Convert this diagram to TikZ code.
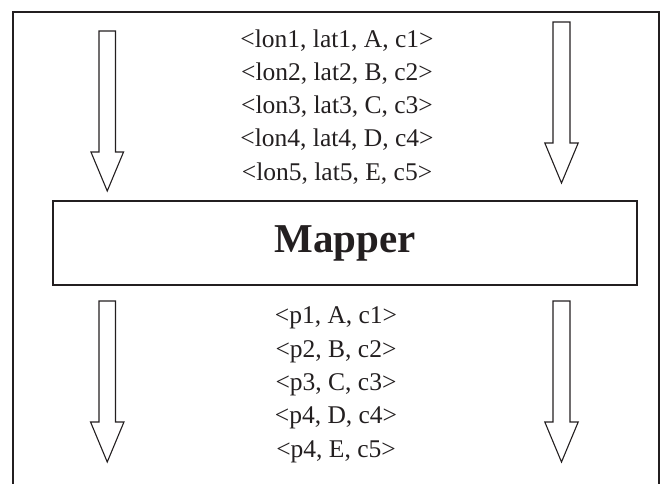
\documentclass[tikz,border=0pt]{standalone}
\usepackage{fontspec}
\setmainfont{Liberation Serif}
\definecolor{ink}{HTML}{231F20}
\begin{document}
\begin{tikzpicture}[x=1pt,y=-1pt,
  frame/.style={draw=ink,line width=1.5pt},
  blockarrow/.style={draw=ink,line width=1.1pt,line join=miter},
  record/.style={inner sep=0pt,text=ink,font=\fontsize{25.5}{30}\selectfont},
  mapperbox/.style={draw=ink,line width=1.5pt,minimum width=584pt,minimum height=84pt,inner sep=0pt,
    text=ink,font=\fontsize{41}{48}\selectfont\bfseries}]
\useasboundingbox (0,0) rectangle (661,484);
% open frame round the stage
\draw[frame] (13,484) -- (13,12) -- (659,12) -- (659,484);
% block arrows: shaft left x, shaft right x, shaft top y, head y, head half width, tip y
\newcommand{\blockarrow}[6]{%
  \draw[blockarrow] (#1,#3) -- (#2,#3) -- (#2,#4) -- ({(#1+#2)/2+#5},#4)
    -- ({(#1+#2)/2},#6) -- ({(#1+#2)/2-#5},#4) -- (#1,#4) -- cycle;}
\blockarrow{99}{115.5}{31}{152}{16.3}{191}
\blockarrow{553}{570}{22}{143}{16.7}{183}
\blockarrow{99}{115.5}{301}{422}{16.7}{462}
\blockarrow{553}{570}{301}{422}{16.7}{462}
% the mapper stage
\node[mapperbox] (mapper) at (345,243) {Mapper};
% input records
\node[record] (in1) at (337,40.5) {<lon1, lat1, A, c1>};
\node[record] (in2) at (337,73.7) {<lon2, lat2, B, c2>};
\node[record] (in3) at (337,106.9) {<lon3, lat3, C, c3>};
\node[record] (in4) at (337,140.1) {<lon4, lat4, D, c4>};
\node[record] (in5) at (337,173.3) {<lon5, lat5, E, c5>};
% output records
\node[record] (out1) at (336,318) {<p1, A, c1>};
\node[record] (out2) at (336,351.4) {<p2, B, c2>};
\node[record] (out3) at (336,384.8) {<p3, C, c3>};
\node[record] (out4) at (336,418.2) {<p4, D, c4>};
\node[record] (out5) at (336,451.6) {<p4, E, c5>};
\end{tikzpicture}
\end{document}
